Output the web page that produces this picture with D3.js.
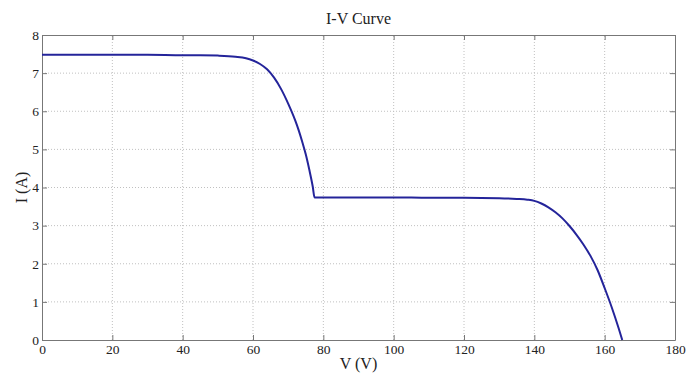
<!DOCTYPE html>
<html>
<head>
<meta charset="utf-8">
<script src="https://cdn.jsdelivr.net/npm/d3@7"></script>
<style>
  body { margin: 0; background: #fff; }
  svg text { font-family: "Liberation Serif", "Times New Roman", serif; fill: #222; }
</style>
</head>
<body>
<script>
const width = 687
const height = 374
const margin = { top: 35, right: 12, bottom: 34, left: 42 }

// I-V curve
const voltage = [0, 10, 20, 30, 40, 45, 50, 55, 58, 60, 62, 64, 66, 68, 70, 72, 73, 74, 75, 76, 77, 77.5,
  80, 90, 100, 110, 120, 130, 135, 138, 140, 142, 144, 146, 148, 150, 152, 154, 156, 158, 160, 162, 164, 165]
const current = [7.48, 7.48, 7.48, 7.48, 7.47, 7.47, 7.46, 7.43, 7.39, 7.33, 7.24, 7.1, 6.88, 6.58, 6.2, 5.76, 5.5, 5.2, 4.87, 4.47, 4.02, 3.74,
  3.74, 3.74, 3.74, 3.73, 3.73, 3.72, 3.7, 3.68, 3.65, 3.58, 3.48, 3.35, 3.19, 2.99, 2.76, 2.5, 2.2, 1.83, 1.36, 0.86, 0.3, 0]
const xTicks = [0, 20, 40, 60, 80, 100, 120, 140, 160, 180]
const yTicks = [0, 1, 2, 3, 4, 5, 6, 7, 8]

const data = voltage.map((v, i) => ({ v: v, i: current[i] }))

const svg = d3.select('body').append('svg')
  .attr('width', width)
  .attr('height', height)

const x = d3.scaleLinear().domain([0, 180]).range([margin.left, width - margin.right])
const y = d3.scaleLinear().domain([0, 8]).range([height - margin.bottom, margin.top])

// grid
svg.append('g')
  .selectAll('line')
  .data(xTicks.slice(1, -1))
  .join('line')
  .attr('x1', d => x(d)).attr('x2', d => x(d))
  .attr('y1', y(0)).attr('y2', y(8))
  .attr('stroke', '#c0c0c0').attr('stroke-dasharray', '1,2')
svg.append('g')
  .selectAll('line')
  .data(yTicks.slice(1, -1))
  .join('line')
  .attr('y1', d => y(d)).attr('y2', d => y(d))
  .attr('x1', x(0)).attr('x2', x(180))
  .attr('stroke', '#c0c0c0').attr('stroke-dasharray', '1,2')

// axes, ticks inward like matlab
const xAxis = svg.append('g')
  .attr('transform', `translate(0,${y(0)})`)
  .call(d3.axisBottom(x).tickValues(xTicks).tickSizeInner(-5).tickSizeOuter(0).tickPadding(4))
const yAxis = svg.append('g')
  .attr('transform', `translate(${x(0)},0)`)
  .call(d3.axisLeft(y).tickValues(yTicks).tickSizeInner(-5).tickSizeOuter(0).tickPadding(3))
const xTop = svg.append('g')
  .attr('transform', `translate(0,${y(8)})`)
  .call(d3.axisTop(x).tickValues(xTicks).tickSizeInner(-5).tickSizeOuter(0).tickFormat(''))
const yRight = svg.append('g')
  .attr('transform', `translate(${x(180)},0)`)
  .call(d3.axisRight(y).tickValues(yTicks).tickSizeInner(-5).tickSizeOuter(0).tickFormat(''))

for (const g of [xAxis, yAxis, xTop, yRight]) {
  g.selectAll('path, line').attr('stroke', '#777')
  g.selectAll('text').style('font-size', '13.5px').attr('fill', '#222')
}

// the curve
svg.append('path')
  .datum(data)
  .attr('fill', 'none')
  .attr('stroke', '#24249a')
  .attr('stroke-width', 2)
  .attr('d', d3.line().x(d => x(d.v)).y(d => y(d.i)).curve(d3.curveMonotoneX))

svg.append('text')
  .attr('x', (x(0) + x(180)) / 2).attr('y', 24)
  .attr('text-anchor', 'middle')
  .style('font-size', '16px')
  .text('I-V Curve')

svg.append('text')
  .attr('x', (x(0) + x(180)) / 2).attr('y', 369)
  .attr('text-anchor', 'middle')
  .style('font-size', '16px')
  .text('V (V)')

svg.append('text')
  .attr('transform', `translate(27,${(y(0) + y(8)) / 2}) rotate(-90)`)
  .attr('text-anchor', 'middle')
  .style('font-size', '16px')
  .text('I (A)')
</script>
</body>
</html>
